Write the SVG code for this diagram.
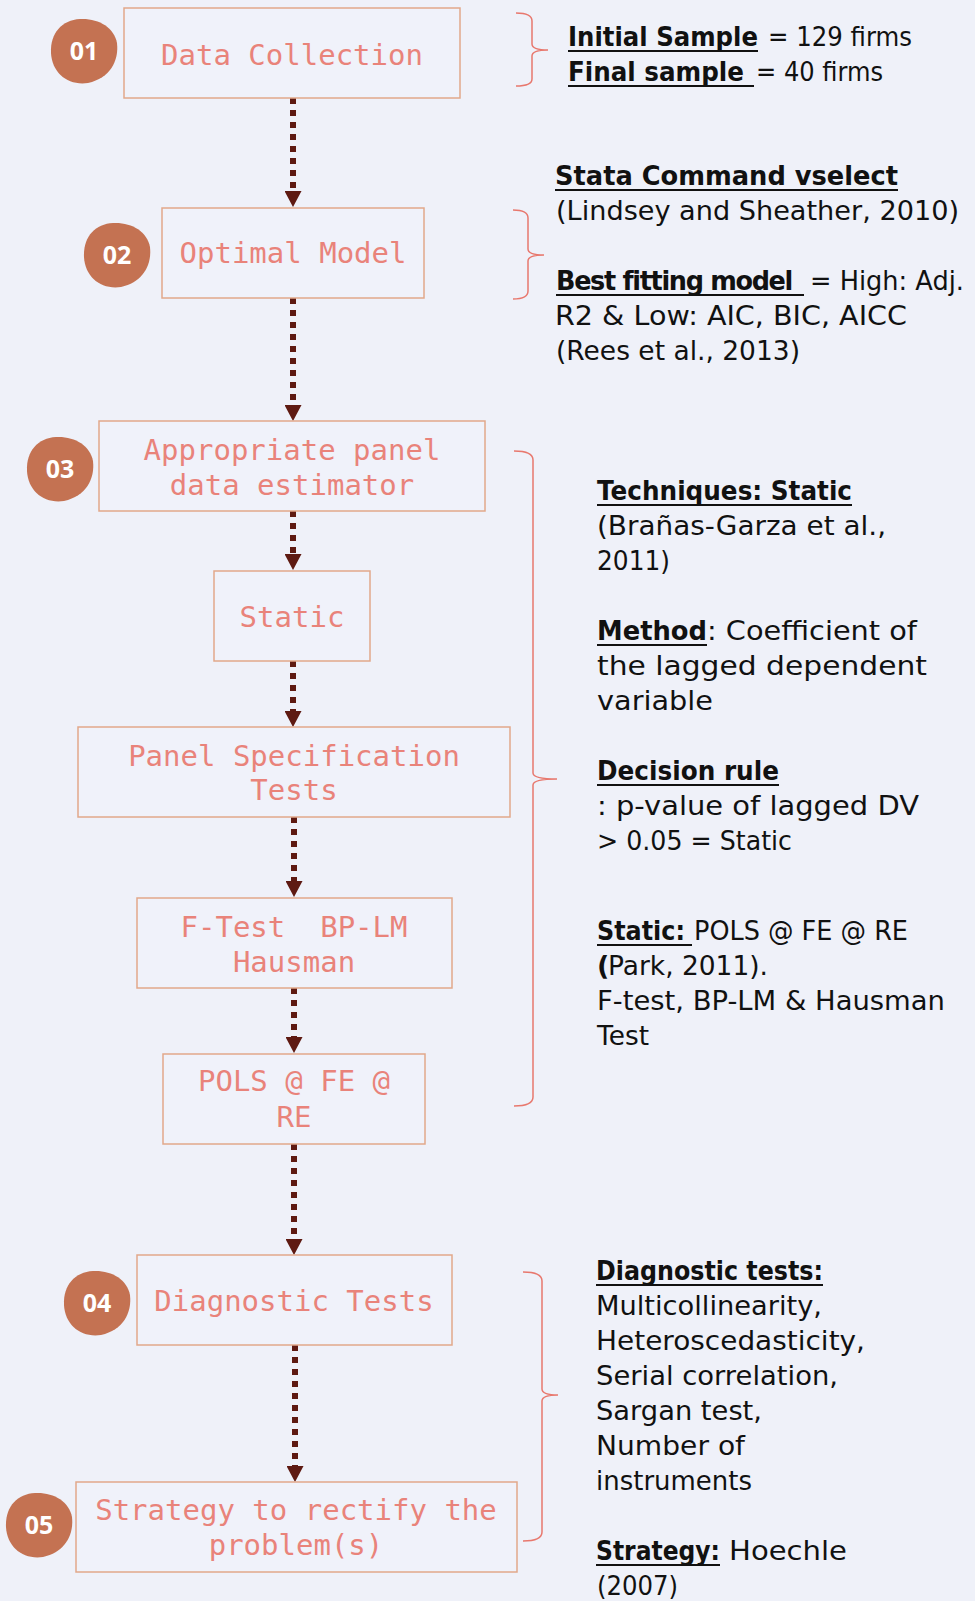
<svg xmlns="http://www.w3.org/2000/svg" width="975" height="1601" viewBox="0 0 975 1601">
  <defs>
    <style>
      .box { fill: #F0F2FA; stroke: #E2A88A; stroke-width: 1.5; }
      .lbl { font-family: "DejaVu Sans Mono", "Liberation Mono", monospace; font-size: 29px; fill: #E9837A; text-anchor: middle; }
      .badge { fill: #C47252; }
      .num { font-family: "Open Sans", "DejaVu Sans", sans-serif; font-weight: 700; font-size: 25px; fill: #FFFFFF; text-anchor: middle; }
      .flow { fill: none; stroke: #5E1A12; stroke-width: 6; stroke-dasharray: 6 6; }
      .brace { fill: none; stroke: #E8786E; stroke-width: 1.5; }
      .note { font-family: "DejaVu Sans", "Liberation Sans", sans-serif; font-size: 27px; fill: #111111; }
      .b { font-weight: 700; }
      .ul { stroke: #111111; stroke-width: 2.2; }
    </style>
    <path id="blob" d="M -4,-32 C 14,-33 30,-24 33,-8 C 35,10 26,27 4,32 C -16,35 -32,22 -33,2 C -34,-18 -22,-31 -4,-32 Z"/>
    <marker id="head" markerUnits="userSpaceOnUse" markerWidth="17" markerHeight="17" refX="2" refY="8.5" orient="auto">
      <path d="M0,0 L16,8.5 L0,17 Z" fill="#5E1A12"/>
    </marker>
  </defs>

  <rect x="0" y="0" width="975" height="1601" fill="#EFF1F9"/>

  <!-- dotted flow arrows between steps -->
  <g id="connectors">
    <path class="flow" d="M293,98 L293,193" marker-end="url(#head)"/>
    <path class="flow" d="M293,298 L293,407" marker-end="url(#head)"/>
    <path class="flow" d="M293,511 L293,556" marker-end="url(#head)"/>
    <path class="flow" d="M293,661 L293,713" marker-end="url(#head)"/>
    <path class="flow" d="M294,817 L294,883" marker-end="url(#head)"/>
    <path class="flow" d="M294,988 L294,1039" marker-end="url(#head)"/>
    <path class="flow" d="M294,1144 L294,1241" marker-end="url(#head)"/>
    <path class="flow" d="M295,1345 L295,1468" marker-end="url(#head)"/>
  </g>

  <g id="step-data-collection">
    <rect class="box" x="124" y="8" width="336" height="90"/>
    <text class="lbl" x="292" y="65">Data Collection</text>
  </g>
  <g id="badge-01">
    <use href="#blob" class="badge" transform="translate(84,51)"/>
    <text class="num" x="84" y="60">01</text>
  </g>

  <g id="step-optimal-model">
    <rect class="box" x="162" y="208" width="262" height="90"/>
    <text class="lbl" x="293" y="263">Optimal Model</text>
  </g>
  <g id="badge-02">
    <use href="#blob" class="badge" transform="translate(117,255)"/>
    <text class="num" x="117" y="264">02</text>
  </g>

  <g id="step-estimator">
    <rect class="box" x="99" y="421" width="386" height="90"/>
    <text class="lbl" x="292" y="460">Appropriate panel</text>
    <text class="lbl" x="292" y="495">data estimator</text>
  </g>
  <g id="badge-03">
    <use href="#blob" class="badge" transform="translate(60,469)"/>
    <text class="num" x="60" y="478">03</text>
  </g>

  <g id="step-static">
    <rect class="box" x="214" y="571" width="156" height="90"/>
    <text class="lbl" x="292" y="627">Static</text>
  </g>

  <g id="step-panel-spec">
    <rect class="box" x="78" y="727" width="432" height="90"/>
    <text class="lbl" x="294" y="766">Panel Specification</text>
    <text class="lbl" x="294" y="800">Tests</text>
  </g>

  <g id="step-tests">
    <rect class="box" x="137" y="898" width="315" height="90"/>
    <text class="lbl" x="294" y="937" xml:space="preserve">F-Test  BP-LM</text>
    <text class="lbl" x="294" y="972">Hausman</text>
  </g>

  <g id="step-pols">
    <rect class="box" x="163" y="1054" width="262" height="90"/>
    <text class="lbl" x="294" y="1091">POLS @ FE @</text>
    <text class="lbl" x="294" y="1127">RE</text>
  </g>

  <g id="step-diagnostic">
    <rect class="box" x="137" y="1255" width="315" height="90"/>
    <text class="lbl" x="294" y="1311">Diagnostic Tests</text>
  </g>
  <g id="badge-04">
    <use href="#blob" class="badge" transform="translate(97,1303)"/>
    <text class="num" x="97" y="1312">04</text>
  </g>

  <g id="step-strategy">
    <rect class="box" x="76" y="1482" width="441" height="90"/>
    <text class="lbl" x="296" y="1520">Strategy to rectify the</text>
    <text class="lbl" x="296" y="1555">problem(s)</text>
  </g>
  <g id="badge-05">
    <use href="#blob" class="badge" transform="translate(39,1525)"/>
    <text class="num" x="39" y="1534">05</text>
  </g>

  <!-- curly braces linking steps to their notes -->
  <g id="braces">
    <path class="brace" d="M516,13 Q532,13 532,21 L532,44 Q532,50 548,50 Q532,50 532,56 L532,79 Q532,86 516,86"/>
    <path class="brace" d="M513,210 Q528,210 528,218 L528,249 Q528,255 544,255 Q528,255 528,261 L528,291 Q528,299 513,299"/>
    <path class="brace" d="M514,451 Q533,451 533,460 L533,773 Q533,779 557,779 Q533,779 533,785 L533,1097 Q533,1106 514,1106"/>
    <path class="brace" d="M523,1272 Q542,1272 542,1281 L542,1389 Q542,1395 558,1395 Q542,1395 542,1401 L542,1532 Q542,1541 523,1541"/>
  </g>

  <!-- underlines of the bold headings -->
  <g id="underlines">
    <line class="ul" x1="568" y1="51" x2="758" y2="51"/>
    <line class="ul" x1="568" y1="86" x2="754" y2="86"/>
    <line class="ul" x1="555" y1="190" x2="898" y2="190"/>
    <line class="ul" x1="556" y1="295" x2="804" y2="295"/>
    <line class="ul" x1="597" y1="505" x2="852" y2="505"/>
    <line class="ul" x1="597" y1="645" x2="707" y2="645"/>
    <line class="ul" x1="597" y1="785" x2="779" y2="785"/>
    <line class="ul" x1="597" y1="945" x2="692" y2="945"/>
    <line class="ul" x1="596" y1="1285" x2="823" y2="1285"/>
    <line class="ul" x1="596" y1="1565" x2="720" y2="1565"/>
  </g>

  <g id="note-sample">
    <text class="note b" x="568" y="46" textLength="190" lengthAdjust="spacingAndGlyphs">Initial Sample</text>
    <text class="note" x="768" y="46" textLength="144" lengthAdjust="spacingAndGlyphs">= 129 firms</text>
    <text class="note b" x="568" y="81" textLength="176" lengthAdjust="spacingAndGlyphs">Final sample</text>
    <text class="note" x="756" y="81" textLength="127" lengthAdjust="spacingAndGlyphs">= 40 firms</text>
  </g>

  <g id="note-model">
    <text class="note b" x="555" y="185" textLength="343" lengthAdjust="spacingAndGlyphs">Stata Command vselect</text>
    <text class="note" x="556" y="220" textLength="403" lengthAdjust="spacingAndGlyphs">(Lindsey and Sheather, 2010)</text>
    <text class="note b" x="556" y="290" letter-spacing="-1.4" textLength="236" lengthAdjust="spacingAndGlyphs">Best fitting model</text>
    <text class="note" x="810" y="290" textLength="154" lengthAdjust="spacingAndGlyphs">= High: Adj.</text>
    <text class="note" x="555" y="325" textLength="352" lengthAdjust="spacingAndGlyphs">R2 &amp; Low: AIC, BIC, AICC</text>
    <text class="note" x="556" y="360" textLength="244" lengthAdjust="spacingAndGlyphs">(Rees et al., 2013)</text>
  </g>

  <g id="note-estimator">
    <text class="note b" x="597" y="500" textLength="255" lengthAdjust="spacingAndGlyphs">Techniques: Static</text>
    <text class="note" x="597" y="535" textLength="289" lengthAdjust="spacingAndGlyphs">(Brañas-Garza et al.,</text>
    <text class="note" x="597" y="570" textLength="73" lengthAdjust="spacingAndGlyphs">2011)</text>
    <text class="note b" x="597" y="640" textLength="110" lengthAdjust="spacingAndGlyphs">Method</text>
    <text class="note" x="707" y="640" textLength="210" lengthAdjust="spacingAndGlyphs">: Coefficient of</text>
    <text class="note" x="597" y="675" textLength="330" lengthAdjust="spacingAndGlyphs">the lagged dependent</text>
    <text class="note" x="597" y="710" textLength="116" lengthAdjust="spacingAndGlyphs">variable</text>
    <text class="note b" x="597" y="780" textLength="182" lengthAdjust="spacingAndGlyphs">Decision rule</text>
    <text class="note" x="597" y="815" textLength="322" lengthAdjust="spacingAndGlyphs">: p-value of lagged DV</text>
    <text class="note" x="597" y="850" textLength="195" lengthAdjust="spacingAndGlyphs">&gt; 0.05 = Static</text>
    <text class="note b" x="597" y="940" textLength="88" lengthAdjust="spacingAndGlyphs">Static:</text>
    <text class="note" x="694" y="940" textLength="214" lengthAdjust="spacingAndGlyphs">POLS @ FE @ RE</text>
    <text class="note b" x="597" y="975">(</text>
    <text class="note" x="608" y="975" textLength="160" lengthAdjust="spacingAndGlyphs">Park, 2011).</text>
    <text class="note" x="597" y="1010" textLength="348" lengthAdjust="spacingAndGlyphs">F-test, BP-LM &amp; Hausman</text>
    <text class="note" x="597" y="1045" textLength="52" lengthAdjust="spacingAndGlyphs">Test</text>
  </g>

  <g id="note-diagnostics">
    <text class="note b" x="596" y="1280" textLength="227" lengthAdjust="spacingAndGlyphs">Diagnostic tests:</text>
    <text class="note" x="596" y="1315" textLength="226" lengthAdjust="spacingAndGlyphs">Multicollinearity,</text>
    <text class="note" x="596" y="1350" textLength="269" lengthAdjust="spacingAndGlyphs">Heteroscedasticity,</text>
    <text class="note" x="596" y="1385" textLength="242" lengthAdjust="spacingAndGlyphs">Serial correlation,</text>
    <text class="note" x="596" y="1420" textLength="166" lengthAdjust="spacingAndGlyphs">Sargan test,</text>
    <text class="note" x="596" y="1455" textLength="149" lengthAdjust="spacingAndGlyphs">Number of</text>
    <text class="note" x="596" y="1490" textLength="156" lengthAdjust="spacingAndGlyphs">instruments</text>
    <text class="note b" x="596" y="1560" textLength="124" lengthAdjust="spacingAndGlyphs">Strategy:</text>
    <text class="note" x="729" y="1560" textLength="118" lengthAdjust="spacingAndGlyphs">Hoechle</text>
    <text class="note" x="597" y="1595" textLength="81" lengthAdjust="spacingAndGlyphs">(2007)</text>
  </g>
</svg>
